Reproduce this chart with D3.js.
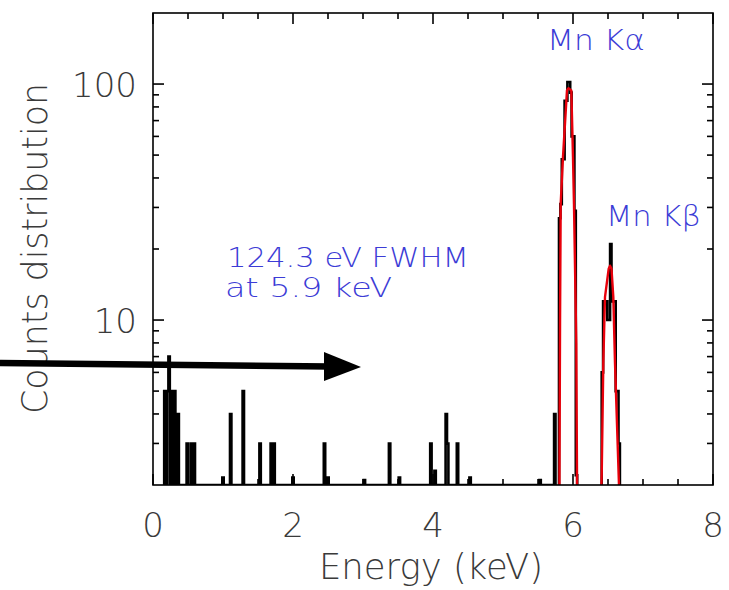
<!DOCTYPE html>
<html><head><meta charset="utf-8">
<script src="https://cdn.jsdelivr.net/npm/d3@7"></script>
<style>body{margin:0;background:#fff}svg{display:block}</style>
</head><body><svg id="c" width="729" height="590"></svg>
<script>
// ---- data ----
const binWidth = 0.02; // keV
// low-energy / background histogram bins (bin centre keV, counts)
const bgEnergy = [0.17,0.19,0.21,0.23,0.25,0.27,0.29,0.31,0.36,0.49,0.55,0.57,0.59,1.00,1.11,1.29,1.53,1.69,1.71,1.73,2.00,2.45,2.50,3.02,3.38,3.52,3.97,4.03,4.19,4.21,4.35,4.53,5.53,5.74];
const bgCounts = [5,2,5,7,2,5,2,5,4,3,3,2,3,2.15,4,5,3,3,2,3,2.15,3,2.15,2.1,3,2.15,3,2.3,4,3,3,2.15,2.1,4];
// Mn K-alpha histogram
const kaEnergy = [5.81,5.83,5.85,5.87,5.89,5.91,5.93,5.95,5.97,5.99,6.01,6.03,6.05];
const kaCounts = [27,31,48,48,85,85,102,102,92,60,60,29,2.2];
// Mn K-beta histogram
const kbEnergy = [6.42,6.44,6.46,6.48,6.50,6.52,6.54,6.56,6.58,6.60,6.62,6.64,6.66];
const kbCounts = [6,12,12,12,10,10,21,12,12,12,5,5,3];
// fitted curves (red)
const fitKaEnergy = [5.805,5.815,5.824,5.857,5.914,5.935,5.976,6.0,6.014,6.047,6.06];
const fitKaValue  = [1.5,10,31,49,94,96,94,49,31,8,1.5];
const fitKbEnergy = [6.395,6.41,6.433,6.457,6.51,6.529,6.55,6.576,6.60,6.657,6.67];
const fitKbValue  = [1.5,2.2,6.6,12.5,16.5,17,16.5,12.5,6.6,2,1.5];
// axes
const xDomain = [0, 8];
const yDomain = [2, 200];
const xMajorTicks = [0,2,4,6,8];
const xMinorTicks = [0.5,1,1.5,2.5,3,3.5,4.5,5,5.5,6.5,7,7.5];
const yMajorTicks = [10,100];
const yMinorTicks = [3,4,5,6,7,8,9,20,30,40,50,60,70,80,90];
const xTitle = "Energy (keV)";
const yTitle = "Counts distribution";
const labelKa = "Mn K\u03B1";
const labelKb = "Mn K\u03B2";
const noteLines = ["124.3 eV FWHM", "at 5.9 keV"];

// ---- layout ----
const L = 153, R = 713, T = 13, B = 485;
const svg = d3.select("#c");
const x = d3.scaleLinear().domain(xDomain).range([L, R]);
const y = d3.scaleLog().domain(yDomain).range([B, T]);
const yc = v => y(Math.max(v, yDomain[0]));

svg.append("defs").append("clipPath").attr("id","plot")
  .append("rect").attr("x",L).attr("y",T).attr("width",R-L).attr("height",B-T);

const g = svg.append("g").attr("clip-path","url(#plot)");

function histPoints(E, C) {
  const pts = [];
  for (let i = 0; i < E.length; i++) {
    const left = E[i] - binWidth/2, right = E[i] + binWidth/2;
    if (i === 0 || Math.abs(E[i] - E[i-1] - binWidth) > 1e-6) {
      if (i > 0) pts.push([E[i-1] + binWidth/2, yDomain[0]]);
      pts.push([left, yDomain[0]]);
    }
    pts.push([left, C[i]], [right, C[i]]);
  }
  pts.push([E[E.length-1] + binWidth/2, yDomain[0]]);
  return pts;
}
const line = d3.line().x(d => x(d[0])).y(d => yc(d[1]));
[[bgEnergy,bgCounts],[kaEnergy,kaCounts],[kbEnergy,kbCounts]].forEach(([E,C]) => {
  g.append("path").attr("d", line(histPoints(E,C)))
    .attr("fill","none").attr("stroke","#000").attr("stroke-width",2.6)
    .attr("stroke-linejoin","miter");
});
const fitLine = d3.line().x(d => x(d[0])).y(d => y(d[1]));
[[fitKaEnergy,fitKaValue],[fitKbEnergy,fitKbValue]].forEach(([E,V]) => {
  g.append("path").attr("d", fitLine(E.map((e,i)=>[e,V[i]])))
    .attr("fill","none").attr("stroke","#e8000b").attr("stroke-width",2.4)
    .attr("stroke-linejoin","round");
});

// ---- frame & ticks (IDL style, inward on all sides) ----
const ax = svg.append("g").attr("stroke","#000").attr("stroke-width",1.6);
ax.append("rect").attr("x",L).attr("y",T).attr("width",R-L).attr("height",B-T).attr("fill","none");
const majLen = 11, minLen = 6;
function xt(v, len){ ax.append("line").attr("x1",x(v)).attr("x2",x(v)).attr("y1",B).attr("y2",B-len);
  ax.append("line").attr("x1",x(v)).attr("x2",x(v)).attr("y1",T).attr("y2",T+len); }
function yt(v, len){ ax.append("line").attr("y1",y(v)).attr("y2",y(v)).attr("x1",L).attr("x2",L+len);
  ax.append("line").attr("y1",y(v)).attr("y2",y(v)).attr("x1",R).attr("x2",R-len); }
xMajorTicks.forEach(v => xt(v, majLen));
xMinorTicks.forEach(v => xt(v, minLen));
yMajorTicks.forEach(v => yt(v, majLen));
yMinorTicks.forEach(v => yt(v, minLen));

// ---- labels ----
const font = "'DejaVu Sans', 'Liberation Sans', sans-serif";
const grey = "#3a3a3a";
const tl = svg.append("g").attr("font-family",font).attr("font-size",34).attr("fill",grey).attr("font-weight",200);
xMajorTicks.forEach(v => tl.append("text").attr("x",x(v)).attr("y",B+52).attr("text-anchor","middle").text(d3.format("d")(v)));
yMajorTicks.forEach(v => tl.append("text").attr("x",L-16).attr("y",y(v)+12.5).attr("text-anchor","end").text(d3.format("d")(v)));
tl.append("text").attr("x",(319+543)/2).attr("y",579).attr("text-anchor","middle")
  .attr("font-size",35).attr("textLength",224).attr("lengthAdjust","spacingAndGlyphs").text(xTitle);
tl.append("text").attr("transform","translate(47,248.5) rotate(-90)").attr("text-anchor","middle")
  .attr("font-size",35).attr("textLength",331).attr("lengthAdjust","spacingAndGlyphs").text(yTitle);

const blue = "#3c3cd6";
const bl = svg.append("g").attr("font-family",font).attr("fill",blue).attr("font-weight",200);
bl.append("text").attr("x",547).attr("y",50).attr("font-size",28).attr("textLength",98).attr("lengthAdjust","spacingAndGlyphs").text(labelKa);
bl.append("text").attr("x",606).attr("y",226).attr("font-size",28).attr("textLength",95).attr("lengthAdjust","spacingAndGlyphs").text(labelKb);
bl.append("text").attr("x",227).attr("y",267).attr("font-size",26).attr("textLength",242).attr("lengthAdjust","spacingAndGlyphs").text(noteLines[0]);
bl.append("text").attr("x",225).attr("y",297).attr("font-size",26).attr("textLength",167).attr("lengthAdjust","spacingAndGlyphs").text(noteLines[1]);

// ---- arrow annotation ----
svg.append("line").attr("x1",0).attr("y1",363).attr("x2",330).attr("y2",366.5)
  .attr("stroke","#000").attr("stroke-width",6.5);
svg.append("path").attr("d","M324,352 L361,367 L324,381 Z").attr("fill","#000");
</script></body></html>
